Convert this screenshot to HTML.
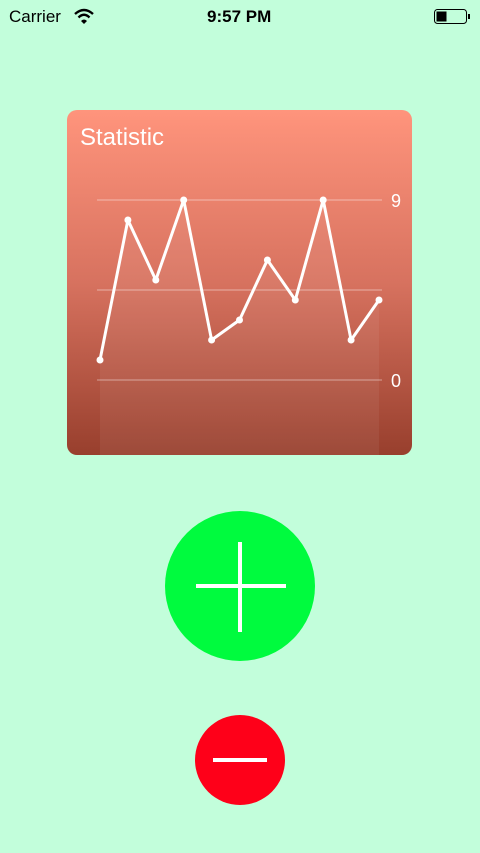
<!DOCTYPE html>
<html><head><meta charset="utf-8"><style>
body{margin:0;width:480px;height:853px;background:#c2fedb;position:relative;overflow:hidden;font-family:"Liberation Sans",sans-serif}
.sb{position:absolute;top:0;left:0;width:480px;height:34px;font-size:17px;color:#000}
</style></head><body>
<div class="sb">
<span style="position:absolute;left:9px;top:7px">Carrier</span>
<svg style="position:absolute;left:74px;top:8px" width="20" height="16"><path d="M1 6 Q10 -2 19 6" stroke="#000" stroke-width="2.4" fill="none"/><path d="M4.5 9.5 Q10 4 15.5 9.5" stroke="#000" stroke-width="2.4" fill="none"/><path d="M7 13 L10 16 L13 13 Q10 10 7 13Z" fill="#000"/></svg>
<span style="position:absolute;left:207px;top:7px;font-weight:bold">9:57 PM</span>
<svg style="position:absolute;left:434px;top:9px" width="38" height="16"><rect x="0.5" y="0.5" width="32" height="14" rx="3" fill="none" stroke="#000"/><rect x="2.5" y="2.5" width="10" height="10" fill="#000"/><rect x="34" y="5" width="2" height="5" fill="#000"/></svg>
</div>
<div style="position:absolute;left:67px;top:110px;width:345px;height:345px;border-radius:10px;background:linear-gradient(#ff947c,#d7725f 50%,#983f2d);overflow:hidden">
<div style="position:absolute;left:13px;top:14px;font-size:24px;color:#fff">Statistic</div>
</div>
<svg id="chart" width="480" height="853" style="position:absolute;left:0;top:0"></svg>
<div style="position:absolute;left:165px;top:511px;width:150px;height:150px;border-radius:50%;background:#00fb3e">
<div style="position:absolute;left:31px;top:73px;width:90px;height:4px;background:#fff"></div>
<div style="position:absolute;left:73px;top:31px;width:4px;height:90px;background:#fff"></div>
</div>
<div style="position:absolute;left:195px;top:715px;width:90px;height:90px;border-radius:50%;background:#fe0019">
<div style="position:absolute;left:18px;top:43px;width:54px;height:4px;background:#fff"></div>
</div>
<script>
const values=[1,8,5,9,2,3,6,4,9,2,4];
const yTicks=[0,4.5,9];
const tickLabels=["0","","9"];
const svg=document.getElementById('chart');
const NS='http://www.w3.org/2000/svg';
const x0=100,x1=379,y0=380,y9=200,maxV=9;
const xs=i=>x0+(x1-x0)*i/(values.length-1);
const ys=v=>y0-(y0-y9)*v/maxV;
function mk(t,a){const e=document.createElementNS(NS,t);for(const k in a)e.setAttribute(k,a[k]);svg.appendChild(e);return e;}
yTicks.forEach((t,i)=>{
const l=mk('line',{x1:97,x2:382,y1:ys(t),y2:ys(t),stroke:'rgba(255,255,255,0.45)','stroke-width':1});


if(tickLabels[i]){const tx=mk('text',{x:391,y:ys(t)+7,fill:'#fff','font-size':18,'font-family':'Liberation Sans, sans-serif'});tx.textContent=tickLabels[i];

}
});
const pts=values.map((v,i)=>xs(i)+','+ys(v)).join(' ');
const area=mk('polygon',{points:xs(0)+',455 '+pts+' '+xs(values.length-1)+',455',fill:'rgba(255,255,255,0.06)'});


const pl=mk('polyline',{points:pts,fill:'none',stroke:'#fff','stroke-width':3,'stroke-linejoin':'round'});


values.forEach((v,i)=>{const c=mk('circle',{cx:xs(i),cy:ys(v),r:3.5,fill:'#fff'});

});
</script>
</body></html>
